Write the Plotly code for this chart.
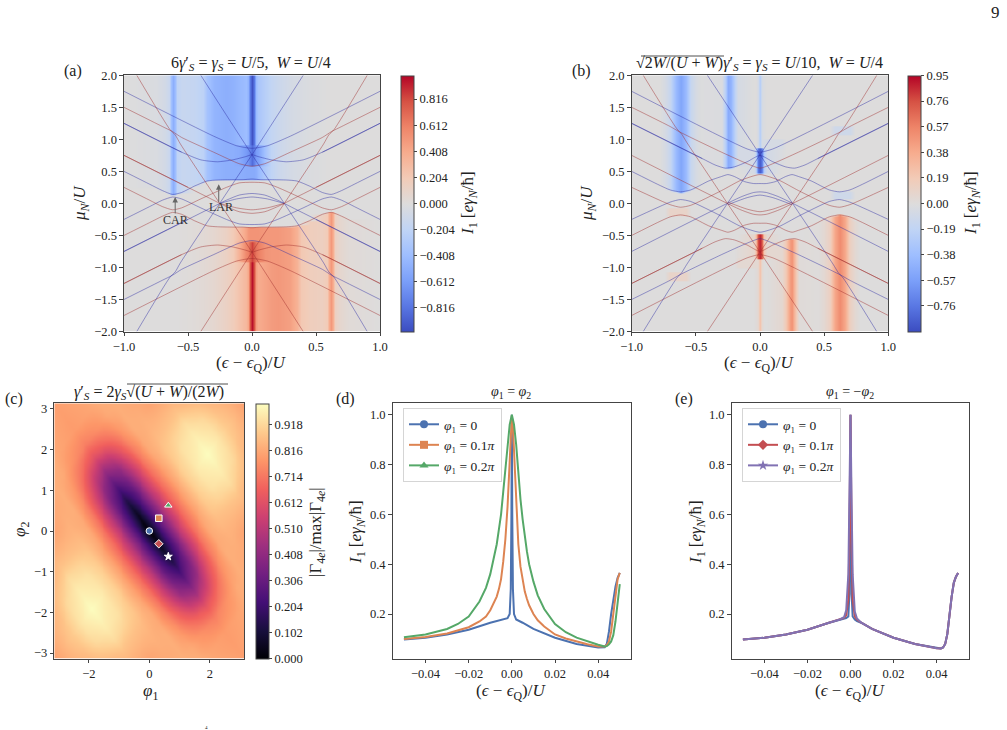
import numpy as np
import plotly.graph_objects as go

W, H = 1007, 730
SERIF = "Liberation Serif"
INK = "#222222"
FRAME = "#444444"

# coolwarm stops shared by the two map panels
COOLWARM = [[0.0, "#3b4cc0"], [0.1, "#5977e3"], [0.2, "#7b9ff9"], [0.3, "#9ebeff"],
            [0.4, "#c0d4f5"], [0.5, "#dddcdc"], [0.6, "#f2cbb7"], [0.7, "#f7ac8e"],
            [0.8, "#ee8468"], [0.9, "#d65244"], [1.0, "#b40426"]]

# ---- panel (a): current map, stops along epsilon, upper half-plane values
a_x = [-1, -.75, -.68, -.645, -.63, -.615, -.6, -.585, -.55, -.45, -.38, -.35, -.3, -.2, -.15, -.1, -.05, -.03, -.015,
       0, .015, .03, .05, .1, .15, .2, .3, .35, .38, .45, .55, .585, .6, .615, .63, .645, .68, .75, 1]
a_top = [0, -.03, -.08, -.14, -.38, -.5, -.4, -.2, -.15, -.17, -.22, -.36, -.46, -.5, -.48, -.44, -.4, -.47, -.8,
         -.97, -.8, -.42, -.33, -.25, -.18, -.13, -.07, -.05, -.04, -.02, -.01, 0, 0, 0, 0, 0, 0, 0, 0]
a_mid = [0, -.03, -.08, -.14, -.38, -.5, -.4, -.2, -.15, -.17, -.22, -.36, -.46, -.5, -.5, -.52, -.62, -.66, -.75,
         -.85, -.75, -.62, -.58, -.36, -.2, -.13, -.07, -.05, -.04, -.02, -.01, 0, 0, 0, 0, 0, 0, 0, 0]
a_low = [0, -.03, -.08, -.14, -.38, -.5, -.4, -.2, -.15, -.17, -.22, -.36, -.46, -.5, -.5, -.5, -.52, -.52, -.52,
         -.52, -.52, -.5, -.44, -.3, -.2, -.13, -.07, -.05, -.04, -.02, -.01, 0, 0, 0, 0, 0, 0, 0, 0]
a_floor = [.5, .25, .19, .15, .14, .13, .14, .15, .17, .27, .33, .35, .365, .37, .37, .37, .375, .38, .38,
           .38, .38, .38, .375, .37, .37, .37, .365, .35, .33, .27, .17, .15, .14, .13, .14, .15, .19, .25, .5]
a_bands = [(0.0, a_low), (0.6, a_mid), (0.92, a_top)]

# level branches of panel (a), left half; the other quadrants follow by symmetry
a_lines = [
    ([-1, -.3, -.12, 0], [1.75, 1.05, .9, .86]),
    ([-1, -.55, -.4, -.27, -.15, -.05, 0], [1.25, .8, .68, .65, .68, .73, .76]),
    ([-1, -.8, -.7, -.62, -.55, -.45, -.35, -.27, -.15, -.07, 0], [.5, .3, .2, .14, .17, .27, .35, .365, .37, .37, .38]),
    ([-1, -.8, -.7, -.62, -.55, -.4, -.2, -.1, 0], [-.25, -.05, .05, .1, .07, -.07, -.25, -.32, -.33]),
    ([-1, -.375, -.2, -.1, 0], [-.75, -.125, .05, .13, .155]),
    ([-.25, -.12, 0], [0, .07, .10]),
    ([-1, -.7, -.62, -.55, -.3, -.1, 0], [-1.5, -1.2, -1.12, -1.03, -.8, -.62, -.58]),
]
a_steep = ([-.9, -.64, -.6, -.56, 0, .4], [-2, -1.15, -1.07, -.93, .76, 2])
a_heavy = [([-1, -.55], [1.25, .8]), ([-1, -.5], [-.75, -.25])]

# ---- panel (b)
b_x = [-1, -.78, -.74, -.7, -.66, -.62, -.58, -.54, -.5, -.46, -.3, -.27, -.25, -.23, -.2, -.17, -.05, -.03, -.015,
       0, .015, .03, .05, .17, .2, .23, .25, .27, .3, .46, .5, .54, .58, .62, .66, .7, .74, .78, 1]
b_top = [0, 0, -.05, -.14, -.4, -.53, -.4, -.14, -.05, -.01, -.02, -.28, -.5, -.44, -.2, -.06, 0, 0, -.05,
         -.25, -.05, -.02, 0, 0, 0, 0, 0, 0, 0, 0, 0, 0, 0, 0, 0, 0, 0, 0, 0]
b_mid = [0, 0, -.05, -.14, -.4, -.53, -.4, -.14, -.05, -.01, -.02, -.28, -.5, -.44, -.2, -.06, -.06, -.2, -.75,
         -.88, -.75, -.25, -.08, -.02, 0, 0, 0, 0, 0, 0, 0, 0, 0, 0, 0, 0, 0, 0, 0]
b_floor_half = [.5, .3, .27, .22, .19, .18, .19, .21, .26, .3, .58, .55, .55, .56, .57, .6, .47, .47, .47, .47]
b_floor = b_floor_half + b_floor_half[-2::-1]
b_bands = [(0.0, b_mid), (0.88, b_top)]
b_patches = [(.55, .72, .08, .18, -.1), (.55, .7, 1.08, 1.2, -.1), (.03, .17, .86, 1.0, -.05)]

b_lines = [
    ([-1, -.1, 0], [1.75, .85, .8]),
    ([-1, -.45, -.35, -.27, -.2, -.1, 0], [1.25, .7, .6, .55, .57, .65, .75]),
    ([-1, -.8, -.7, -.62, -.54, -.4, -.3, -.25, -.2, -.12, -.05, 0], [.5, .3, .21, .18, .21, .35, .42, .45, .42, .34, .31, .31]),
    ([-1, -.7, -.62, -.54, -.3, -.15, 0], [-.25, .02, .06, .03, -.2, -.36, -.45]),
    ([-1, -.15, -.05, 0], [-.75, .1, .17, .18]),
    ([-.25, -.1, 0], [-.02, .09, .13]),
    ([-1, -.7, -.63, -.55, -.3, -.1, 0], [-1.5, -1.2, -1.12, -1.04, -.8, -.62, -.55]),
]
b_steep = ([-.91, -.65, -.61, -.57, 0, .41], [-2, -1.17, -1.08, -.95, .76, 2])
b_heavy = [([-1, -.45], [1.25, .7])]

# ---- panel (c): normalised rate tabulated along the valley (u) and across it (v)
c_u = [0, .35, .7, 1.05, 1.4, 1.8, 2.2, 2.6, 3.0, 3.5, 4.45]
c_v = [0, .35, .7, 1.05, 1.4, 1.8, 2.2, 2.7, 3.2, 3.6, 4.45]
c_table = [
    [.00, .03, .07, .13, .22, .33, .47, .62, .73, .79, .80],
    [.27, .27, .28, .30, .34, .42, .53, .66, .75, .80, .81],
    [.50, .50, .52, .52, .54, .58, .65, .72, .78, .81, .82],
    [.68, .68, .69, .70, .71, .73, .76, .79, .82, .83, .83],
    [.80, .80, .80, .81, .82, .82, .83, .83, .83, .83, .83],
    [.90, .90, .89, .88, .86, .84, .83, .82, .82, .82, .82],
    [.96, .95, .94, .91, .87, .84, .81, .81, .81, .81, .81],
    [1.0, .98, .96, .93, .88, .84, .81, .81, .81, .81, .81],
    [.95, .94, .92, .88, .84, .82, .81, .81, .81, .81, .81],
    [.89, .88, .86, .84, .82, .81, .81, .81, .81, .81, .81],
    [.80, .80, .80, .80, .80, .80, .80, .80, .80, .80, .80],
]
c_marks_x = [0, .314, .628, .314, .628]
c_marks_y = [0, .314, .628, -.314, -.628]
c_symbols = ["circle", "square", "triangle-up", "diamond", "star"]
c_colors = ["#4C72B0", "#DD8452", "#55A868", "#C44E52", "#8172B3"]

# ---- panels (d), (e): line cuts
d_blue_x = [-.05, -.04, -.03, -.02, -.01, -.005, -.002, -.001, -.0005, -.0002, 0, .0002, .0005, .001, .002, .005, .01, .02,
            .03, .04, .042, .043, .044, .045, .046, .047, .048, .049, .05]
d_blue_y = [.098, .105, .118, .137, .165, .175, .183, .20, .30, .60, 1.0, .60, .30, .20, .178, .165, .14, .105,
            .08, .066, .065, .067, .08, .13, .2, .26, .31, .345, .365]
d_orange_x = [-.05, -.04, -.03, -.025, -.02, -.015, -.012, -.01, -.008, -.007, -.006, -.005, -.004, -.003, -.002, -.001, -.0005, 0,
              .0005, .001, .002, .003, .004, .005, .006, .007, .008, .01, .012, .015, .02, .025, .03, .035, .04, .042, .043, .044, .045, .046, .047, .048, .049, .05]
d_orange_y = [.1, .108, .122, .133, .147, .17, .19, .215, .25, .27, .30, .34, .41, .5, .63, .85, .95, .995,
              .95, .85, .63, .48, .39, .33, .29, .26, .235, .2, .175, .15, .118, .102, .09, .079, .07, .068, .07, .075, .09, .13, .2, .28, .34, .365]
d_green_x = [-.05, -.04, -.03, -.025, -.02, -.015, -.012, -.01, -.008, -.007, -.006, -.005, -.004, -.003, -.002, -.001, 0, .001, .002, .003, .004, .005, .006, .007, .008,
             .01, .012, .015, .02, .025, .03, .035, .04, .043, .044, .045, .046, .047, .048, .049, .05]
d_green_y = [.107, .118, .14, .16, .19, .25, .305, .36, .44, .48, .54, .6, .69, .78, .88, .96, 1.0, .96, .88, .76, .66, .58, .51, .45, .4,
             .33, .275, .22, .16, .127, .105, .09, .077, .07, .071, .078, .09, .115, .17, .245, .32]
e_base_x = [-.05, -.04, -.03, -.02, -.01, -.005, -.003, -.002, -.001, -.0005, 0, .0005, .001, .002, .003, .005, .01, .02,
            .03, .04, .042, .043, .044, .045, .046, .047, .048, .049, .05]
e_purple_y = [.098, .105, .118, .137, .165, .178, .187, .215, .36, .66, 1.0, .66, .36, .21, .182, .165, .14, .105,
              .08, .063, .062, .066, .08, .12, .2, .27, .325, .35, .365]
e_red_y = [.098, .105, .118, .137, .165, .177, .184, .195, .26, .5, 1.0, .5, .26, .19, .178, .165, .14, .105,
           .08, .063, .062, .066, .08, .12, .2, .27, .325, .35, .365]
e_blue_y = [.098, .105, .118, .137, .165, .175, .18, .184, .19, .28, 1.0, .28, .19, .178, .172, .165, .14, .105,
            .08, .063, .062, .066, .08, .12, .2, .27, .325, .35, .365]

MU = "<i>μ</i><sub><i>N</i></sub>/<i>U</i>"
DETUNE = "(<i>ϵ</i> − <i>ϵ</i><sub>Q</sub>)/<i>U</i>"
CURRENT = "<i>I</i><sub>1</sub> [<i>eγ</i><sub><i>N</i></sub>/ħ]"


def xdom(a, b):
    return [a / W, b / W]


def ydom(top, bottom):
    return [1 - bottom / H, 1 - top / H]


def build_field(xs, floors, bands, patches=()):
    """Upper half from the band profiles, lower half by point reflection."""
    xs = np.array(xs, float)
    floors = np.array(floors, float)
    rows = np.round(np.arange(-2, 2.0001, .02), 2)
    z = np.zeros((len(rows), len(xs)))
    for j, yv in enumerate(rows):
        ya = abs(yv)
        prof = [p for lo, p in bands if ya >= lo][-1]
        row = np.where(ya >= floors, np.array(prof, float), 0.0)
        for x0, x1, y0, y1, val in patches:
            if y0 <= ya <= y1:
                row = np.where((xs >= x0) & (xs <= x1), val, row)
        z[j] = row if yv >= 0 else -row[::-1]
    return rows, z


def sample_table(phi):
    """Evaluate the (u, v) table on a phase grid; the rate is even in u and v."""
    x, y = np.meshgrid(phi, phi)
    u = np.abs(x - y) / np.sqrt(2)
    v = np.abs(x + y) / np.sqrt(2)
    by_u = np.array([np.interp(u.ravel(), c_u, row) for row in c_table])
    out = np.empty(u.size)
    for k, vv in enumerate(v.ravel()):
        out[k] = np.interp(vv, c_v, by_u[:, k])
    return out.reshape(u.shape)


fig = go.Figure()


def colorbar(px, top, bottom, vals, labels):
    return dict(x=px / W, xanchor="left", xpad=0, y=1 - bottom / H, yanchor="bottom", ypad=0,
                len=(bottom - top), lenmode="pixels", thickness=13, thicknessmode="pixels",
                outlinecolor=FRAME, outlinewidth=1, tickvals=vals, ticktext=labels, ticks="outside",
                ticklen=3, tickcolor=FRAME, tickfont=dict(family=SERIF, size=12.5, color=INK))


def fmt(values, digits):
    return [f"{v:.{digits}f}".replace("-", "−") for v in values]


def draw_map(xs, floors, bands, lines, steep, heavy, ax, cb_px, zmax, ticks, digits, patches=()):
    rows, z = build_field(xs, floors, bands, patches)
    fig.add_trace(go.Heatmap(x=xs, y=rows, z=z, zmin=-zmax, zmax=zmax, zsmooth="best", colorscale=COOLWARM,
                             colorbar=colorbar(cb_px, 75.3, 331.5, ticks, fmt(ticks, digits)),
                             xaxis=f"x{ax}", yaxis=f"y{ax}", hoverinfo="skip"))
    soft = {1: "rgba(45,45,165,0.45)", -1: "rgba(160,45,45,0.45)"}

    def stroke(xv, yv, sign):
        fig.add_trace(go.Scatter(x=xv, y=[sign * v for v in yv], mode="lines", showlegend=False, hoverinfo="skip",
                                 line=dict(color=soft[sign], width=1, shape="spline", smoothing=0.6),
                                 xaxis=f"x{ax}", yaxis=f"y{ax}"))

    for lx, ly in lines:
        both_x = lx + [-v for v in lx[-2::-1]]
        both_y = ly + ly[-2::-1]
        stroke(both_x, both_y, 1)
        stroke(both_x, both_y, -1)
    for mirror in (1, -1):
        for sign in (1, -1):
            stroke([mirror * v for v in steep[0]], steep[1], sign)
            for hx, hy in heavy:
                stroke([mirror * v for v in hx], hy, sign)


a_ticks = [-.816, -.612, -.408, -.204, 0, .204, .408, .612, .816]
b_ticks = [-.76, -.57, -.38, -.19, 0, .19, .38, .57, .76, .95]
draw_map(a_x, a_floor, a_bands, a_lines, a_steep, a_heavy, 1, 400.7, 1.0, a_ticks, 3)
draw_map(b_x, b_floor, b_bands, b_lines, b_steep, b_heavy, 2, 908.3, .95, b_ticks, 2, b_patches)

# panel (c) map and its phase markers
c_grid = np.round(np.arange(-3.14, 3.1401, .0628), 4)
c_ticks = [round(.102 * k, 3) for k in range(10)]
fig.add_trace(go.Heatmap(x=c_grid, y=c_grid, z=sample_table(c_grid), zmin=0, zmax=1, zsmooth="best", colorscale="Magma",
                         colorbar=colorbar(256, 403.3, 658.7, c_ticks, fmt(c_ticks, 3)),
                         xaxis="x3", yaxis="y3", hoverinfo="skip"))
for mx, my, sym, col in zip(c_marks_x, c_marks_y, c_symbols, c_colors):
    star = sym == "star"
    fig.add_trace(go.Scatter(x=[mx], y=[my], mode="markers", showlegend=False, hoverinfo="skip", xaxis="x3", yaxis="y3",
                             marker=dict(symbol=sym, size=6 if star else 6.5, color="white" if star else col,
                                         line=dict(color="white", width=1))))


def cut(xv, yv, color, ax):
    fig.add_trace(go.Scatter(x=xv, y=yv, mode="lines", showlegend=False, hoverinfo="skip",
                             line=dict(color=color, width=2), xaxis=f"x{ax}", yaxis=f"y{ax}"))


def key(label, color, symbol, ax, legend):
    fig.add_trace(go.Scatter(x=[None], y=[None], mode="lines+markers", name=label, legend=legend, hoverinfo="skip",
                             line=dict(color=color, width=2), marker=dict(symbol=symbol, size=8, color=color),
                             xaxis=f"x{ax}", yaxis=f"y{ax}"))


cut(d_blue_x, d_blue_y, c_colors[0], 4)
cut(d_orange_x, d_orange_y, c_colors[1], 4)
cut(d_green_x, d_green_y, c_colors[2], 4)
cut(e_base_x, e_blue_y, c_colors[0], 5)
cut(e_base_x, e_red_y, c_colors[3], 5)
cut(e_base_x, e_purple_y, c_colors[4], 5)

LABEL_0 = "<i>φ</i>₁ = 0"
LABEL_1 = "<i>φ</i>₁ = 0.1<i>π</i>"
LABEL_2 = "<i>φ</i>₁ = 0.2<i>π</i>"
key(LABEL_0, c_colors[0], "circle", 4, "legend")
key(LABEL_1, c_colors[1], "square", 4, "legend")
key(LABEL_2, c_colors[2], "triangle-up", 4, "legend")
key(LABEL_0, c_colors[0], "circle", 5, "legend2")
key(LABEL_1, c_colors[3], "diamond", 5, "legend2")
key(LABEL_2, c_colors[4], "star", 5, "legend2")


def axis(dom, rng, **kw):
    return dict(domain=dom, range=rng, showgrid=False, zeroline=False, showline=True, mirror=True, linecolor=FRAME,
                linewidth=1.2, ticks="outside", ticklen=3.5, tickwidth=1, tickcolor=FRAME,
                tickfont=dict(family=SERIF, size=12.5, color=INK), **kw)


def legend_box(px, py):
    return dict(x=px / W, y=1 - py / H, xanchor="left", yanchor="top", bgcolor="rgba(255,255,255,0.8)",
                bordercolor="#d5d5d5", borderwidth=1, font=dict(family=SERIF, size=13.5, color=INK), itemclick=False,
                itemdoubleclick=False, tracegroupgap=0, itemwidth=30)


def note(px, py, text, size=15, angle=0):
    return dict(x=px / W, y=1 - py / H, xref="paper", yref="paper", text=text, showarrow=False, textangle=angle,
                xanchor="center", yanchor="middle", font=dict(family=SERIF, size=size, color=INK))


def arrow(x, y, tail_y, label, label_x, label_y):
    return [
        dict(x=x, y=y, ax=x, ay=tail_y, xref="x", yref="y", axref="x", ayref="y", text="", showarrow=True,
             arrowhead=2, arrowsize=1.1, arrowwidth=1, arrowcolor="#666666"),
        dict(x=label_x, y=label_y, xref="x", yref="y", text=label, showarrow=False,
             font=dict(family=SERIF, size=12, color="#333333")),
    ]


annotations = [
    note(73, 71, "(a)", 16), note(581, 71, "(b)", 16), note(14, 399, "(c)", 16), note(345, 399, "(d)", 16),
    note(684, 399, "(e)", 16), note(995, 13, "9", 17), note(206, 727, "4", 5),
    note(251, 64, "6<i>γ</i>′<sub><i>S</i></sub> = <i>γ</i><sub><i>S</i></sub> = <i>U</i>/5,  <i>W</i> = <i>U</i>/4", 16),
    note(759.5, 64, "√2<i>W</i>/(<i>U</i> + <i>W</i>)<i>γ</i>′<sub><i>S</i></sub> = <i>γ</i><sub><i>S</i></sub> = <i>U</i>/10,  <i>W</i> = <i>U</i>/4", 16),
    note(149, 393, "<i>γ</i>′<sub><i>S</i></sub> = 2<i>γ</i><sub><i>S</i></sub>√(<i>U</i> + <i>W</i>)/(2<i>W</i>)", 16),
    note(511, 393, "<i>φ</i><sub>1</sub> = <i>φ</i><sub>2</sub>", 14),
    note(850, 393, "<i>φ</i><sub>1</sub> = −<i>φ</i><sub>2</sub>", 14),
    note(251, 364, DETUNE, 17), note(81, 203, MU, 17, -90), note(469, 203, CURRENT, 17, -90),
    note(759, 364, DETUNE, 17), note(588, 203, MU, 17, -90), note(972, 203, CURRENT, 17, -90),
    note(150, 692, "<i>φ</i><sub>1</sub>", 17), note(21, 530, "<i>φ</i><sub>2</sub>", 17, -90),
    note(317, 532, "|Γ<sub>4<i>e</i></sub>|/max|Γ<sub>4<i>e</i></sub>|", 17, -90),
    note(511, 692, DETUNE, 17), note(357, 532, CURRENT, 17, -90),
    note(850, 692, DETUNE, 17), note(697, 532, CURRENT, 17, -90),
]
annotations += arrow(-.6, .1, -.18, "CAR", -.6, -.26)
annotations += arrow(-.26, .3, .0, "LAR", -.245, -.06)

vinculum = dict(type="line", xref="paper", yref="paper", line=dict(color=INK, width=0.8))
shapes = [
    dict(vinculum, x0=641 / W, x1=724 / W, y0=1 - 56 / H, y1=1 - 56 / H),
    dict(vinculum, x0=127 / W, x1=228 / W, y0=1 - 384 / H, y1=1 - 384 / H),
]

y_span = [.0207, 1.0455]
x_span = [-.0552, .0552]
fig.update_layout(
    width=W, height=H, margin=dict(l=0, r=0, t=0, b=0, autoexpand=False), paper_bgcolor="white", plot_bgcolor="white",
    hovermode=False, showlegend=True, annotations=annotations, shapes=shapes,
    xaxis=axis(xdom(124, 380), [-1, 1], anchor="y", dtick=.5, tick0=0, tickformat=".1f"),
    yaxis=axis(ydom(75.3, 331.5), [-2, 2], anchor="x", dtick=.5, tick0=0, tickformat=".1f"),
    xaxis2=axis(xdom(631.7, 888.3), [-1, 1], anchor="y2", dtick=.5, tick0=0, tickformat=".1f"),
    yaxis2=axis(ydom(75.3, 331.5), [-2, 2], anchor="x2", dtick=.5, tick0=0, tickformat=".1f"),
    xaxis3=axis(xdom(54.3, 244.3), [-3.14, 3.14], anchor="y3", tickvals=[-2, 0, 2]),
    yaxis3=axis(ydom(403.3, 658.7), [-3.14, 3.14], anchor="x3", tickvals=[-3, -2, -1, 0, 1, 2, 3]),
    xaxis4=axis(xdom(392.7, 631), x_span, anchor="y4", tickvals=[-.04, -.02, 0, .02, .04], tickformat=".2f"),
    yaxis4=axis(ydom(403.3, 658.7), y_span, anchor="x4", tickvals=[.2, .4, .6, .8, 1.0], tickformat=".1f"),
    xaxis5=axis(xdom(731.7, 969.3), x_span, anchor="y5", tickvals=[-.04, -.02, 0, .02, .04], tickformat=".2f"),
    yaxis5=axis(ydom(403.3, 658.7), y_span, anchor="x5", tickvals=[.2, .4, .6, .8, 1.0], tickformat=".1f"),
    legend=legend_box(403, 408),
    legend2=legend_box(742, 408),
)

fig.write_html("out.html")
